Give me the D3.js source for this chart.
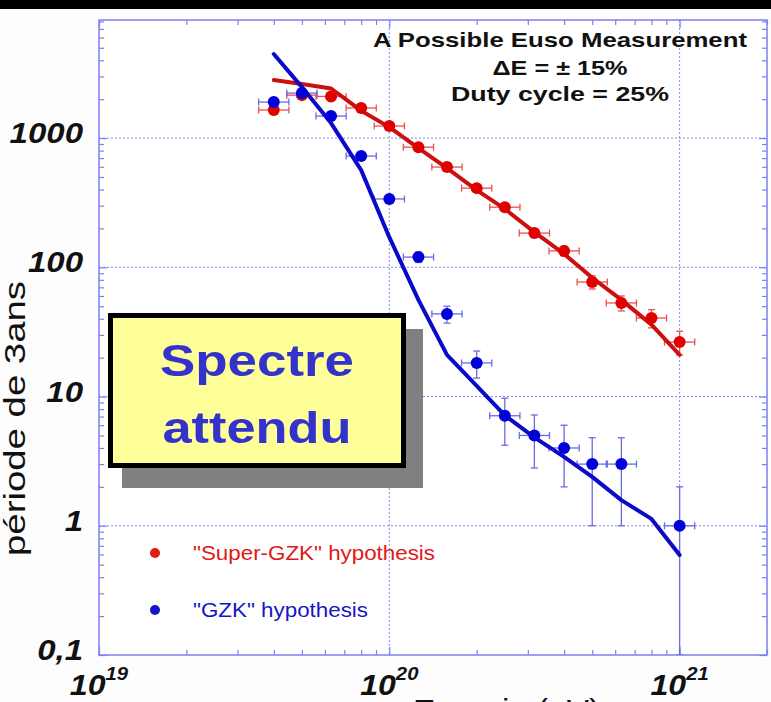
<!DOCTYPE html>
<html>
<head>
<meta charset="utf-8">
<script src="https://cdn.jsdelivr.net/npm/d3@7"></script>
<style>
  body { margin: 0; background: #fff; }
  svg { display: block; font-family: "Liberation Sans", Arial, Helvetica, sans-serif; }
</style>
</head>
<body>
<div id="chart"></div>
<script>
// energies (eV) of the simulated bins
var energies = [4e19, 5e19, 6.3e19, 8e19, 1e20, 1.26e20, 1.58e20, 2e20, 2.5e20, 3.16e20, 4e20, 5e20, 6.3e20, 8e20, 1e21];

// "Super-GZK" hypothesis: events / 3 years, with error bar ends
var superN  = [1650, 2150, 2100, 1710, 1240, 851, 597, 410, 292, 184, 134, 77, 53, 40.5, 26.4];
var superLo = [1610, 2100, 2050, 1670, 1205, 822, 573, 390, 275, 170, 122, 68, 46, 34, 21];
var superHi = [1690, 2200, 2150, 1750, 1275, 880, 621, 430, 309, 198, 146, 86, 60, 47, 32];
var superModel = [2810, 2620, 2420, 1630, 1216, 837, 586, 396, 283, 187, 127, 83, 56, 36, 21];

// "GZK" hypothesis (no event in the 8e20 bin)
var gzkE  = [4e19, 5e19, 6.3e19, 8e19, 1e20, 1.26e20, 1.58e20, 2e20, 2.5e20, 3.16e20, 4e20, 5e20, 6.3e20, 1e21];
var gzkN  = [1900, 2230, 1480, 726, 338, 120, 43.6, 18.2, 7.1, 5.0, 4.0, 3.0, 3.0, 1.0];
var gzkLo = [1850, 2180, 1440, 700, 320, 109, 37, 13.9, 4.2, 2.8, 2.0, 1.0, 1.0, 0.1];
var gzkHi = [1950, 2280, 1520, 752, 356, 131, 50, 22.5, 9.7, 7.2, 6.0, 4.8, 4.8, 2.0];
var gzkModel = [4470, 2480, 1306, 565, 171, 56, 21, 12.1, 7.15, 4.83, 3.41, 2.39, 1.58, 1.13, 0.594];

var dLogE = 0.052;   // half width of energy bars, in decades

var yTickVals = [0.1, 1, 10, 100, 1000];
var yTickText = ["0,1", "1", "10", "100", "1000"];
var xTickVals = [1e19, 1e20, 1e21];
var xTickExp = ["19", "20", "21"];

var W = 771, H = 702;
var pL = 99, pR = 767, pT = 20, pB = 655;

var frameBlue = "#7f7ff5";

var svg = d3.select("#chart").append("svg")
    .attr("width", W)
    .attr("height", H);

svg.append("rect").attr("width", W).attr("height", H).attr("fill", "#fdfdfd");
svg.append("rect").attr("width", W).attr("height", 9).attr("fill", "#000");
svg.append("rect").attr("x", pL).attr("y", pT)
    .attr("width", pR - pL).attr("height", pB - pT).attr("fill", "#fff");

var x = d3.scaleLog().domain([1e19, 2e21]).range([pL, pR]);
var y = d3.scaleLog().domain([0.1, 8200]).range([pB, pT]);

// dotted grid at the decades
var grid = svg.append("g").attr("class", "grid")
    .attr("stroke", "#8a8af0").attr("stroke-width", 1).attr("stroke-dasharray", "2,2");
grid.selectAll("line.gx").data([1e20, 1e21]).enter().append("line")
    .attr("x1", d => x(d)).attr("x2", d => x(d))
    .attr("y1", pT).attr("y2", pB);
grid.selectAll("line.gy").data([1, 10, 100, 1000]).enter().append("line")
    .attr("y1", d => y(d)).attr("y2", d => y(d))
    .attr("x1", pL).attr("x2", pR);

// axes with inward ticks, no labels
function styleAxis(g) {
    g.select(".domain").remove();
    g.selectAll(".tick line").attr("stroke", frameBlue).attr("stroke-width", 1.2);
    g.selectAll(".tick text").remove();
}
var isDecade = d => Math.abs(Math.log10(d) - Math.round(Math.log10(d))) < 1e-6;

[["top", d3.axisBottom, pT], ["bottom", d3.axisTop, pB]].forEach(function (a) {
    var g = svg.append("g").attr("transform", "translate(0," + a[2] + ")")
        .call(a[1](x).ticks(10).tickSizeOuter(0).tickFormat(""));
    g.selectAll(".tick line").attr("y2", function (d) {
        var s = isDecade(d) ? 8 : 5;
        return a[0] === "top" ? s : -s;
    });
    styleAxis(g);
});
[["left", d3.axisRight, pL], ["right", d3.axisLeft, pR]].forEach(function (a) {
    var g = svg.append("g").attr("transform", "translate(" + a[2] + ",0)")
        .call(a[1](y).ticks(10).tickSizeOuter(0).tickFormat(""));
    g.selectAll(".tick line").attr("x2", function (d) {
        var s = isDecade(d) ? 8 : 5;
        return a[0] === "left" ? s : -s;
    });
    styleAxis(g);
});

svg.append("rect").attr("x", pL).attr("y", pT)
    .attr("width", pR - pL).attr("height", pB - pT)
    .attr("fill", "none").attr("stroke", frameBlue).attr("stroke-width", 1.5);

// tick labels (slightly widened like the original lettering)
svg.append("g").selectAll("text").data(yTickVals).enter().append("text")
    .attr("transform", d => "translate(83," + (y(d) + 5) + ") scale(1.1,1)")
    .attr("text-anchor", "end")
    .attr("font-size", 30).attr("font-weight", "bold").attr("font-style", "italic")
    .attr("fill", "#111")
    .text((d, i) => yTickText[i]);

var xl = svg.append("g").selectAll("text").data(xTickVals).enter().append("text")
    .attr("transform", d => "translate(" + x(d) + ",695) scale(1.07,1)")
    .attr("text-anchor", "middle")
    .attr("font-weight", "bold").attr("font-style", "italic")
    .attr("fill", "#111");
xl.append("tspan").attr("font-size", 30).text("10");
xl.append("tspan").attr("font-size", 19).attr("dy", -15).text((d, i) => xTickExp[i]);

// axis titles (x one is cut by the picture edge)
svg.append("text")
    .attr("x", 413).attr("y", 720)
    .attr("font-size", 30).attr("fill", "#111")
    .attr("textLength", 187).attr("lengthAdjust", "spacingAndGlyphs")
    .text("Energie (eV)");
svg.append("text")
    .attr("transform", "translate(25,556) rotate(-90)")
    .attr("font-size", 29).attr("fill", "#111")
    .attr("textLength", 275).attr("lengthAdjust", "spacingAndGlyphs")
    .text("période de 3ans");

// title block
var title = [
    ["A Possible Euso Measurement", 47, 374],
    ["\u0394E = \u00b1 15%", 75, 135],
    ["Duty cycle = 25%", 101, 218]
];
svg.append("g").selectAll("text").data(title).enter().append("text")
    .attr("x", 560).attr("y", d => d[1])
    .attr("text-anchor", "middle")
    .attr("font-size", 21).attr("font-weight", "bold").attr("fill", "#111")
    .attr("textLength", d => d[2]).attr("lengthAdjust", "spacingAndGlyphs")
    .text(d => d[0]);

// data layer, clipped to the frame
svg.append("clipPath").attr("id", "plotclip").append("rect")
    .attr("x", pL).attr("y", pT).attr("width", pR - pL).attr("height", pB - pT);
var plot = svg.append("g").attr("clip-path", "url(#plotclip)");

var line = d3.line().x(d => x(d[0])).y(d => y(d[1]));

function drawSeries(E, N, lo, hi, model, col) {
    var pts = E.map((e, i) => ({e: e, n: N[i], lo: lo[i], hi: hi[i]}));
    var eb = plot.append("g").attr("stroke", col.err).attr("stroke-width", 1.3).attr("fill", "none");
    var cap = 3.5;
    pts.forEach(function (p) {
        var x1 = x(p.e * Math.pow(10, -dLogE)), x2 = x(p.e * Math.pow(10, dLogE));
        var cx = x(p.e), cy = y(p.n), y1 = y(p.lo), y2 = y(p.hi);
        eb.append("line").attr("x1", x1).attr("x2", x2).attr("y1", cy).attr("y2", cy);
        eb.append("line").attr("x1", x1).attr("x2", x1).attr("y1", cy - cap).attr("y2", cy + cap);
        eb.append("line").attr("x1", x2).attr("x2", x2).attr("y1", cy - cap).attr("y2", cy + cap);
        eb.append("line").attr("x1", cx).attr("x2", cx).attr("y1", y1).attr("y2", y2);
        eb.append("line").attr("x1", cx - cap).attr("x2", cx + cap).attr("y1", y1).attr("y2", y1);
        eb.append("line").attr("x1", cx - cap).attr("x2", cx + cap).attr("y1", y2).attr("y2", y2);
    });
    plot.append("path")
        .datum(energies.map((e, i) => [e, model[i]]))
        .attr("d", line)
        .attr("fill", "none").attr("stroke", col.line).attr("stroke-width", 4)
        .attr("stroke-linejoin", "round").attr("stroke-linecap", "round");
    plot.append("g").selectAll("circle").data(pts).enter().append("circle")
        .attr("cx", d => x(d.e)).attr("cy", d => y(d.n)).attr("r", 6)
        .attr("fill", col.dot);
}

drawSeries(energies, superN, superLo, superHi, superModel,
    {err: "#e8504f", line: "#cc1010", dot: "#e00000"});
drawSeries(gzkE, gzkN, gzkLo, gzkHi, gzkModel,
    {err: "#6a6ae6", line: "#0a0ac8", dot: "#0000d8"});

// legend
var legend = [
    ['"Super-GZK" hypothesis', "#e01818", 553, 242],
    ['"GZK" hypothesis', "#1515c8", 610, 175]
];
var lg = svg.append("g").selectAll("g").data(legend).enter().append("g");
lg.append("circle").attr("cx", 155).attr("cy", d => d[2]).attr("r", 5).attr("fill", d => d[1]);
lg.append("text").attr("x", 193).attr("y", d => d[2] + 7)
    .attr("font-size", 20).attr("fill", d => d[1])
    .attr("textLength", d => d[3]).attr("lengthAdjust", "spacingAndGlyphs")
    .text(d => d[0]);

// "Spectre attendu" box with drop shadow
var box = svg.append("g");
box.append("rect").attr("x", 122).attr("y", 329).attr("width", 301).attr("height", 159).attr("fill", "#808080");
box.append("rect").attr("x", 110.5).attr("y", 315.5).attr("width", 293).attr("height", 150)
    .attr("fill", "#ffff99").attr("stroke", "#000").attr("stroke-width", 5);
box.selectAll("text").data([["Spectre", 376, 194], ["attendu", 443, 189]]).enter().append("text")
    .attr("x", 257).attr("y", d => d[1])
    .attr("text-anchor", "middle")
    .attr("font-size", 45).attr("font-weight", "bold").attr("fill", "#3333cc")
    .attr("textLength", d => d[2]).attr("lengthAdjust", "spacingAndGlyphs")
    .text(d => d[0]);
</script>
</body>
</html>
